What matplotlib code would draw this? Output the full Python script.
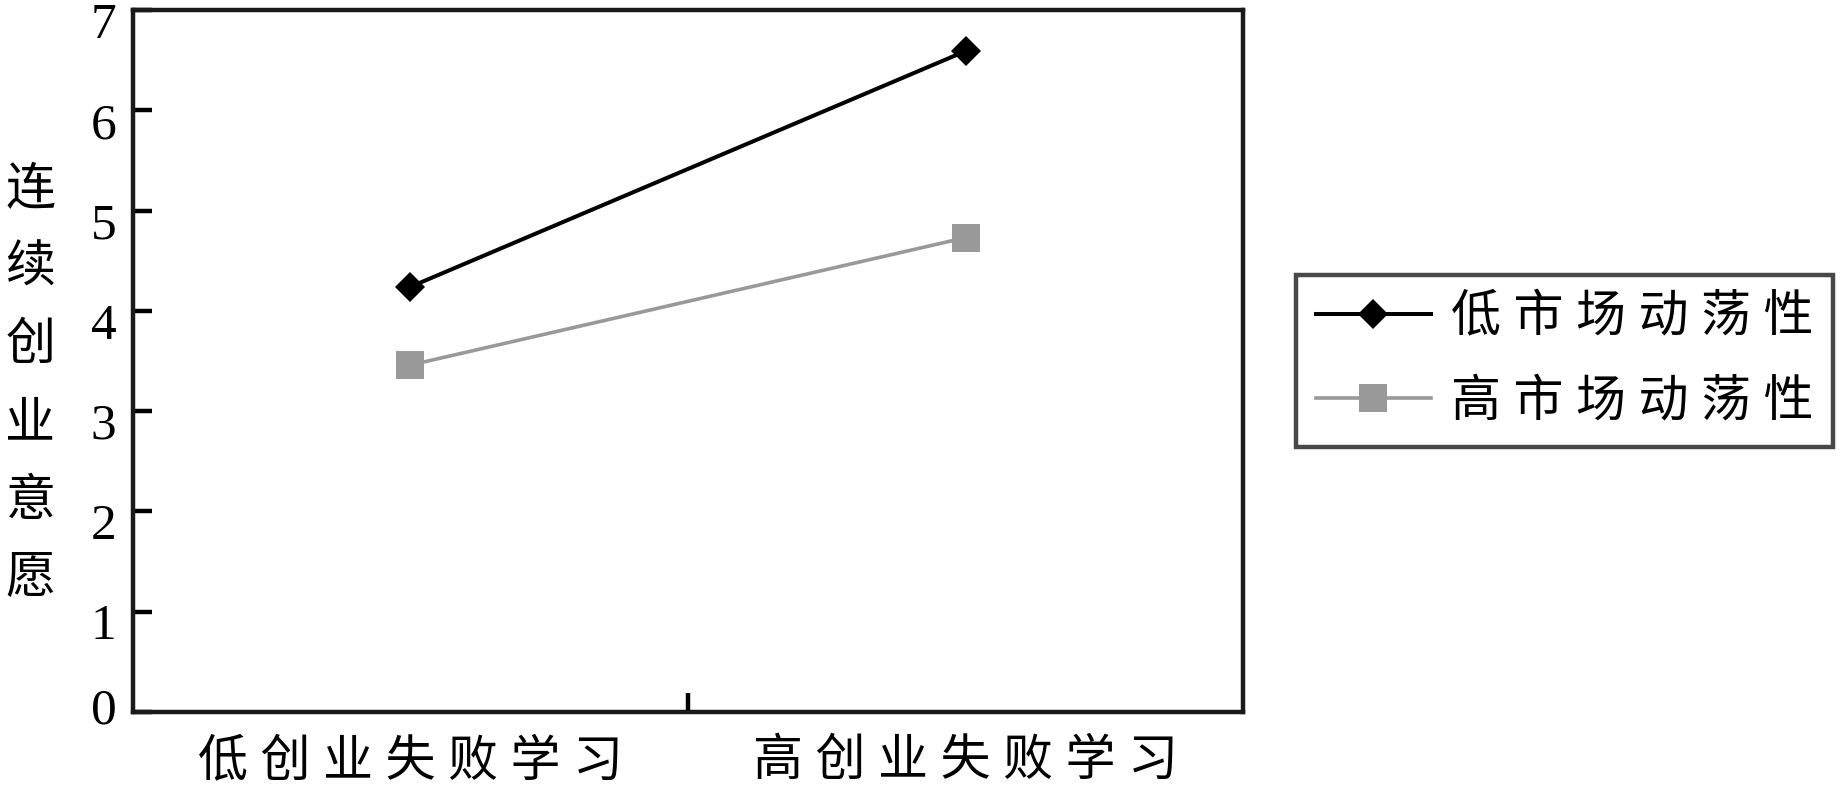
"""低/高市场动荡性下创业失败学习与连续创业意愿的交互作用图."""

import matplotlib

matplotlib.use("Agg")

import matplotlib.pyplot as plt
from matplotlib.transforms import ScaledTranslation

plt.rcParams["font.family"] = ["Liberation Serif", "Noto Sans CJK SC"]

# 数据
categories = ["低创业失败学习", "高创业失败学习"]
series_names = ["低市场动荡性", "高市场动荡性"]
low_turbulence = [4.24, 6.59]
high_turbulence = [3.46, 4.73]
y_ticks = [0, 1, 2, 3, 4, 5, 6, 7]
y_label = "连续创业意愿"


def spaced(text: str) -> str:
    return " ".join(text)


figure = plt.figure(figsize=(18.47, 7.87), dpi=100)
axis = figure.add_axes([0.0720, 0.0953, 0.6010, 0.8920])

positions = [0.5, 1.5]
axis.plot(
    positions,
    low_turbulence,
    color="black",
    linewidth=2.9,
    marker="D",
    markersize=15.5,
    markeredgewidth=0,
    label=spaced(series_names[0]),
)
axis.plot(
    positions,
    high_turbulence,
    color="#999999",
    linewidth=2.6,
    marker="s",
    markersize=20,
    markeredgewidth=0,
    label=spaced(series_names[1]),
)

axis.set_xlim(0, 2)
axis.set_ylim(0, 7)

for spine in axis.spines.values():
    spine.set_linewidth(3.2)
    spine.set_color("#1a1a1a")

axis.set_yticks(y_ticks)
axis.set_yticklabels([str(v) for v in y_ticks])
axis.tick_params(
    axis="y", direction="in", length=14, width=3.2, pad=12, labelsize=37
)
for value, label in zip(y_ticks, axis.get_yticklabels()):
    offset = 0.06 if value == 0 else -0.10
    label.set_transform(
        label.get_transform() + ScaledTranslation(0, offset, figure.dpi_scale_trans)
    )

axis.set_xticks([1])
axis.set_xticklabels([""])
axis.tick_params(axis="x", which="major", direction="in", length=14, width=3.2)
axis.set_xticks(positions, minor=True)
axis.set_xticklabels([spaced(c) for c in categories], minor=True)
axis.tick_params(axis="x", which="minor", length=0, pad=20, labelsize=36)

# 纵轴标题：竖排逐字
char_pitch = 77.6 / 787
first_y = (787 - 192) / 787
for index, char in enumerate(y_label):
    figure.text(
        0.0165,
        first_y - index * char_pitch,
        char,
        ha="center",
        va="center",
        fontsize=36,
    )

legend = axis.legend(
    loc="center",
    bbox_to_anchor=(0.847, 0.5413),
    bbox_transform=figure.transFigure,
    fontsize=36,
    frameon=True,
    fancybox=False,
    handlelength=2.3,
    handletextpad=0.4,
    borderpad=0.4,
    labelspacing=0.75,
    borderaxespad=0,
)
legend.get_frame().set_linewidth(3.2)
legend.get_frame().set_edgecolor("#1a1a1a")

figure.savefig("out.png", dpi=100)
plt.close(figure)
